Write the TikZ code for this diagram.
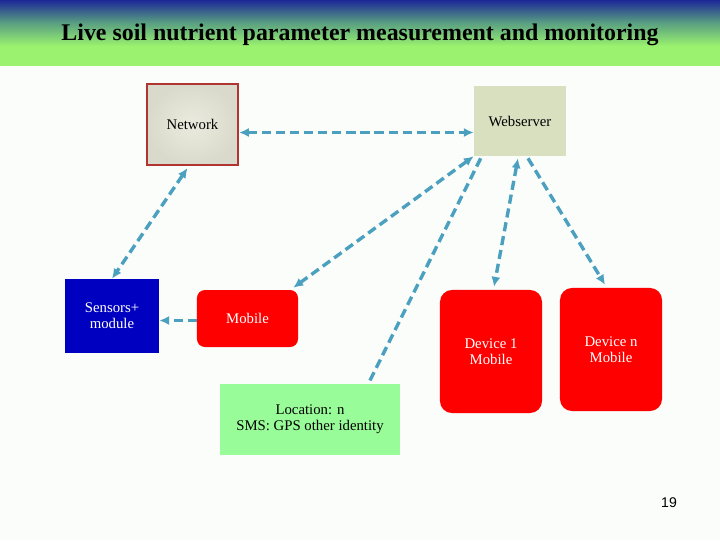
\documentclass[tikz,border=0pt]{standalone}
\usepackage{fontspec}
\setmainfont{Liberation Serif}
\newfontfamily\pagenumfont{Liberation Sans}
\usepackage{tikz}
\usetikzlibrary{calc}
\usetikzlibrary{arrows.meta}
\definecolor{linkblue}{RGB}{74,160,190}
\definecolor{bandblue}{RGB}{28,40,150}
\definecolor{bandgreen}{RGB}{154,242,110}
\definecolor{netfill}{RGB}{234,234,222}
\definecolor{netedge}{RGB}{218,218,204}
\definecolor{netborder}{RGB}{176,52,48}
\definecolor{webfill}{RGB}{216,224,192}
\definecolor{sensblue}{RGB}{0,0,192}
\definecolor{locgreen}{RGB}{152,252,152}
\definecolor{pagebg}{RGB}{250,253,250}
\tikzset{every edge/.style={draw},
  dashlink/.style={linkblue, line width=2.4pt, dash pattern=on 6.5pt off 3.5pt,
    arrows={-Latex[length=7pt,width=6.5pt]}},
  bothtips/.style={arrows={Latex[length=7pt,width=6.5pt]-Latex[length=7pt,width=6.5pt]}},
  txt/.style={font=\fontsize{10.5}{11.5}\selectfont, align=center},
  redbox/.style={fill=red, text=white, rounded corners=0.3cm, inner sep=0pt, txt}}

\begin{document}
\begin{tikzpicture}[x=0.025cm, y=-0.025cm]
    \path[use as bounding box, fill=pagebg] (0,0) rectangle (720,540);

    % title band
    \shade[top color=bandblue, bottom color=bandgreen, middle color={rgb,255:red,90;green,160;blue,130}] (0,0) rectangle (720,46);
    \fill[bandgreen] (0,46) rectangle (720,66);
    \node at (360,35) (title) {\fontsize{17}{20}\selectfont\bfseries Live soil nutrient parameter measurement and monitoring};

    \node[draw=netborder, line width=1.5pt, inner color=netfill, outer color=netedge, minimum width=2.275cm, minimum height=2.025cm, txt] at (192.5,124.5) (Net) {Network};
    \node[fill=webfill, minimum width=2.3cm, minimum height=1.75cm, txt] at (520,121) (Web) {Webserver};
    \node[fill=sensblue, text=white, minimum width=2.35cm, minimum height=1.85cm, txt] at (112,316) (Sens) {Sensors+\\module};
    \node[redbox, rounded corners=0.2cm, minimum width=2.525cm, minimum height=1.425cm] at (247.5,318.5) (Mob) {Mobile};
    \node[redbox, minimum width=2.55cm, minimum height=3.075cm] at (491,351.5) (DevA) {Device 1\\Mobile};
    \node[redbox, minimum width=2.55cm, minimum height=3.075cm] at (611,349.5) (DevN) {Device n\\Mobile};
    \node[fill=locgreen, minimum width=4.5cm, minimum height=1.775cm, txt] at (310,419.5) (Loc) {Location: n\\SMS: GPS other identity};

    \node at (669,503) (pg) {\pagenumfont\fontsize{10}{12}\selectfont 19};

    \draw ($(Net.east)+(0,8)$) edge[dashlink, bothtips] ($(Net.east -| Web.west)+(0,8)$);
    \draw ($(Net.south)+(-5,2)$) edge[dashlink, bothtips] (Sens.north);
    \draw (Web.south west) edge[dashlink, bothtips] ($(Mob.north east)+(-5,-2)$);
    \draw ($(Web.south west)+(7,2)$) edge[dashlink, -] ($(Loc.north east)+(-32,0)$);
    \draw ($(Web.south)+(-2,2)$) edge[dashlink, bothtips] ($(DevA.north)+(3,-3)$);
    \draw ($(Web.south)+(8,2)$) edge[dashlink] ($(DevN.north)+(-6,-3)$);
    \draw ($(Mob.west)+(0,2)$) edge[dashlink] ($(Mob.west -| Sens.east)+(0,2)$);
\end{tikzpicture}
\end{document}
